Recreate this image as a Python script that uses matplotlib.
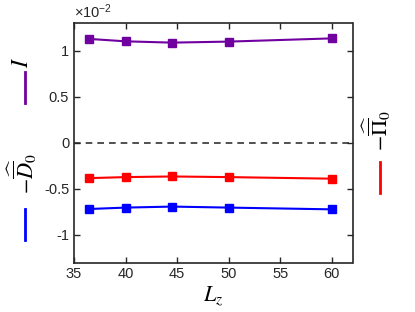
import matplotlib
matplotlib.use('Agg')
import matplotlib.pyplot as plt
from matplotlib.lines import Line2D

plt.rcParams['font.family'] = ['Liberation Sans', 'DejaVu Sans']
plt.rcParams['mathtext.fontset'] = 'stix'
plt.rcParams['axes.unicode_minus'] = False

# Data (values in units of 1e-2)
Lz = [36.5, 40, 44.5, 50, 60]
I_vals = [1.127, 1.101, 1.087, 1.098, 1.133]
Pi0_vals = [-0.384, -0.373, -0.366, -0.373, -0.390]
D0_vals = [-0.719, -0.704, -0.693, -0.704, -0.723]

xticks = [35, 40, 45, 50, 55, 60]
yticks = [-1, -0.5, 0, 0.5, 1]
ytick_labels = ['-1', '-0.5', '0', '0.5', '1']

purple = '#7000A0'

fig = plt.figure(figsize=(4.15, 3.12), dpi=100)
ax = fig.add_axes([74 / 415, 1 - 262.5 / 312, 278.5 / 415, 239.5 / 312])

ax.axhline(0, color='#333333', linestyle=(0, (4, 3)), linewidth=1.2, zorder=1)
ax.plot(Lz, I_vals, color=purple, marker='s', markersize=5.5, linewidth=1.5)
ax.plot(Lz, Pi0_vals, color='#ff0000', marker='s', markersize=5.5, linewidth=1.5)
ax.plot(Lz, D0_vals, color='#0000ff', marker='s', markersize=5.5, linewidth=1.5)

ax.set_xlim(35, 62)
ax.set_ylim(-1.3, 1.3)
ax.set_xticks(xticks)
ax.set_yticks(yticks)
ax.set_yticklabels(ytick_labels)
ax.tick_params(direction='in', top=True, right=True, labelsize=10.5,
               colors='#262626', width=1.0, length=4)
for s in ax.spines.values():
    s.set_linewidth(1.2)
    s.set_color('#262626')

ax.set_xlabel('$L_z$', fontsize=16, labelpad=2)
ax.text(0.0, 1.01, r'$\mathregular{\times10^{-2}}$', transform=ax.transAxes,
        fontsize=10.5, va='bottom', ha='left', color='#262626')

# left side labels with line keys
fig.text(22 / 415, 1 - 62 / 312, '$I$', rotation=90, fontsize=17,
         ha='center', va='center')
fig.add_artist(Line2D([25 / 415, 25 / 415], [1 - 72 / 312, 1 - 103 / 312],
                      color=purple, linewidth=2, transform=fig.transFigure))
fig.text(22 / 415, 1 - 173 / 312, r'$-\widehat{\overline{D}}_0$', rotation=90,
         fontsize=16, ha='center', va='center')
fig.add_artist(Line2D([25 / 415, 25 / 415], [1 - 209 / 312, 1 - 240 / 312],
                      color='#0000ff', linewidth=2, transform=fig.transFigure))

# right side label
fig.text(377 / 415, 1 - 130 / 312, r'$-\widehat{\overline{\Pi}}_0$', rotation=90,
         fontsize=16, ha='center', va='center')
fig.add_artist(Line2D([380 / 415, 380 / 415], [1 - 162 / 312, 1 - 193 / 312],
                      color='#ff0000', linewidth=2, transform=fig.transFigure))

fig.savefig('out.png', dpi=100)
